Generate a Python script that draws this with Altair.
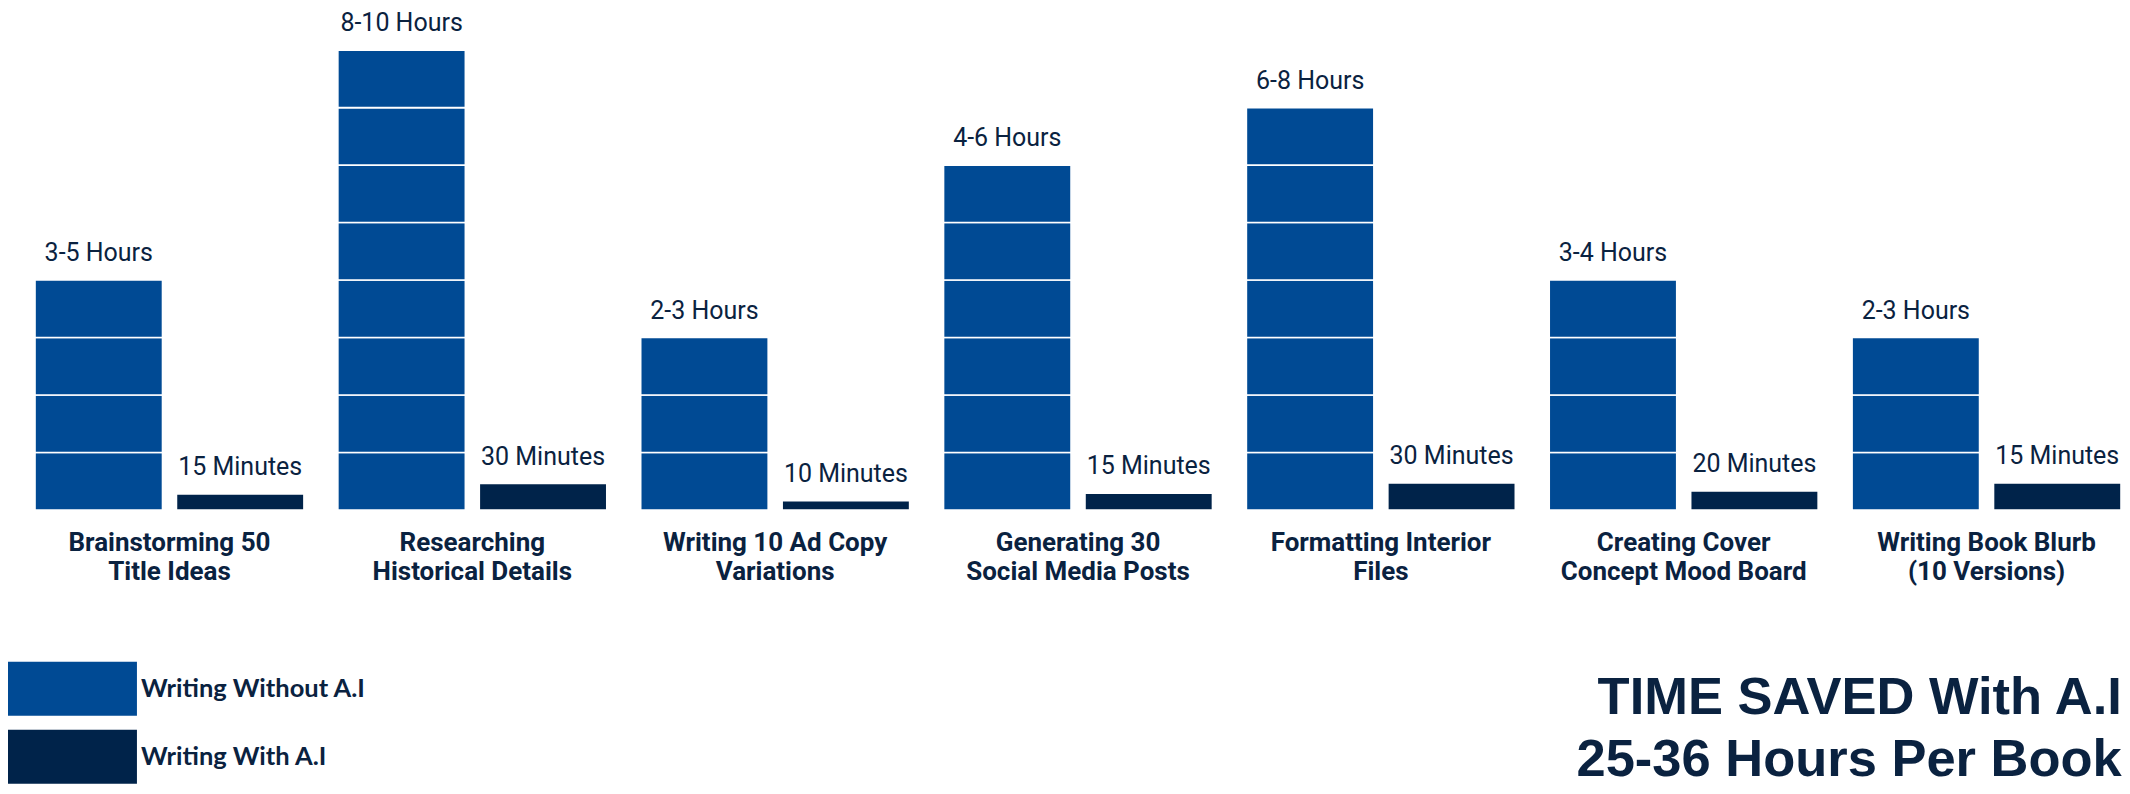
import altair as alt
import pandas as pd

# Tarefas (duas linhas por rótulo)
tarefas = [
    "Brainstorming 50\nTitle Ideas",
    "Researching\nHistorical Details",
    "Writing 10 Ad Copy\nVariations",
    "Generating 30\nSocial Media Posts",
    "Formatting Interior\nFiles",
    "Creating Cover\nConcept Mood Board",
    "Writing Book Blurb\n(10 Versions)",
]
series = ["Writing Without A.I", "Writing With A.I"]

# Blocos de 1 hora desenhados sem IA
blocos_sem_ia = [4, 8, 3, 6, 7, 4, 3]
# Altura (em horas) das barras com IA
horas_com_ia = [0.28, 0.46, 0.16, 0.29, 0.47, 0.33, 0.47]

rotulos_sem_ia = ["3-5 Hours", "8-10 Hours", "2-3 Hours", "4-6 Hours",
                  "6-8 Hours", "3-4 Hours", "2-3 Hours"]
rotulos_com_ia = ["15 Minutes", "30 Minutes", "10 Minutes", "15 Minutes",
                  "30 Minutes", "20 Minutes", "15 Minutes"]

titulo = ["TIME SAVED With A.I", "25-36 Hours Per Book"]

azul = "#004a94"
marinho = "#00234a"
cor_texto = "#0a2240"

# Tabela de segmentos (cada hora é um bloco empilhado)
linhas = []
for t, n, h in zip(tarefas, blocos_sem_ia, horas_com_ia):
    for k in range(n):
        linhas.append({"tarefa": t, "serie": series[0], "lo": k, "hi": k + 1})
    linhas.append({"tarefa": t, "serie": series[1], "lo": 0, "hi": h})
segmentos = pd.DataFrame(linhas)

# Tabela de rótulos no topo das barras
rot = []
for t, n, h, r1, r2 in zip(tarefas, blocos_sem_ia, horas_com_ia, rotulos_sem_ia, rotulos_com_ia):
    rot.append({"tarefa": t, "serie": series[0], "topo": n, "texto": r1})
    rot.append({"tarefa": t, "serie": series[1], "topo": h, "texto": r2})
rotulos = pd.DataFrame(rot)

eixo_x = alt.X(
    "tarefa:N", sort=tarefas,
    scale=alt.Scale(paddingInner=0.112, paddingOuter=0.0446, align=1),
    axis=alt.Axis(title=None, domain=False, ticks=False, labelAngle=0,
                  labelExpr="split(datum.label, '\\n')",
                  labelFont="Roboto", labelFontWeight="bold", labelFontSize=26,
                  labelColor=cor_texto, labelLineHeight=29, labelPadding=20,
                  labelLimit=0, labelBaseline="top", labelOverlap=False),
)
desloc = alt.XOffset("serie:N", sort=series,
                     scale=alt.Scale(paddingInner=0.0986, paddingOuter=0))

barras = alt.Chart(segmentos).mark_bar(stroke="white", strokeWidth=1.6).encode(
    x=eixo_x,
    xOffset=desloc,
    y=alt.Y("lo:Q", scale=alt.Scale(domain=[0, 8.73], nice=False, zero=True), axis=None),
    y2="hi:Q",
    color=alt.Color(
        "serie:N",
        scale=alt.Scale(domain=series, range=[azul, marinho]),
        legend=alt.Legend(
            title=None, orient="none", legendX=37.5, legendY=654,
            direction="vertical", padding=0,
            symbolType="M-2.389,-1H2.389V1H-2.389Z", symbolSize=2916,
            symbolStrokeWidth=0, symbolOpacity=1,
            labelFont="Lato", labelFontWeight="bold", labelFontSize=25.5,
            labelColor=cor_texto, labelOffset=41.5, rowPadding=14, labelLimit=0,
        ),
    ),
)

textos = alt.Chart(rotulos).mark_text(
    font="Roboto", fontSize=25, color=cor_texto, baseline="middle", dy=-27
).encode(
    x=eixo_x,
    xOffset=desloc,
    y=alt.Y("topo:Q"),
    text="texto:N",
)

chart = (barras + textos).properties(
    width=2114,
    height=502,
    padding=0,
    background="white",
    title=alt.TitleParams(
        titulo,
        orient="bottom", anchor="end", font="Liberation Sans", fontSize=52.5,
        fontWeight="bold", color=cor_texto, lineHeight=62, offset=89,
        dx=0, dy=-200,
    ),
).configure_view(stroke=None)

chart.save("out.html", embed_options={"renderer": "svg", "actions": False})
